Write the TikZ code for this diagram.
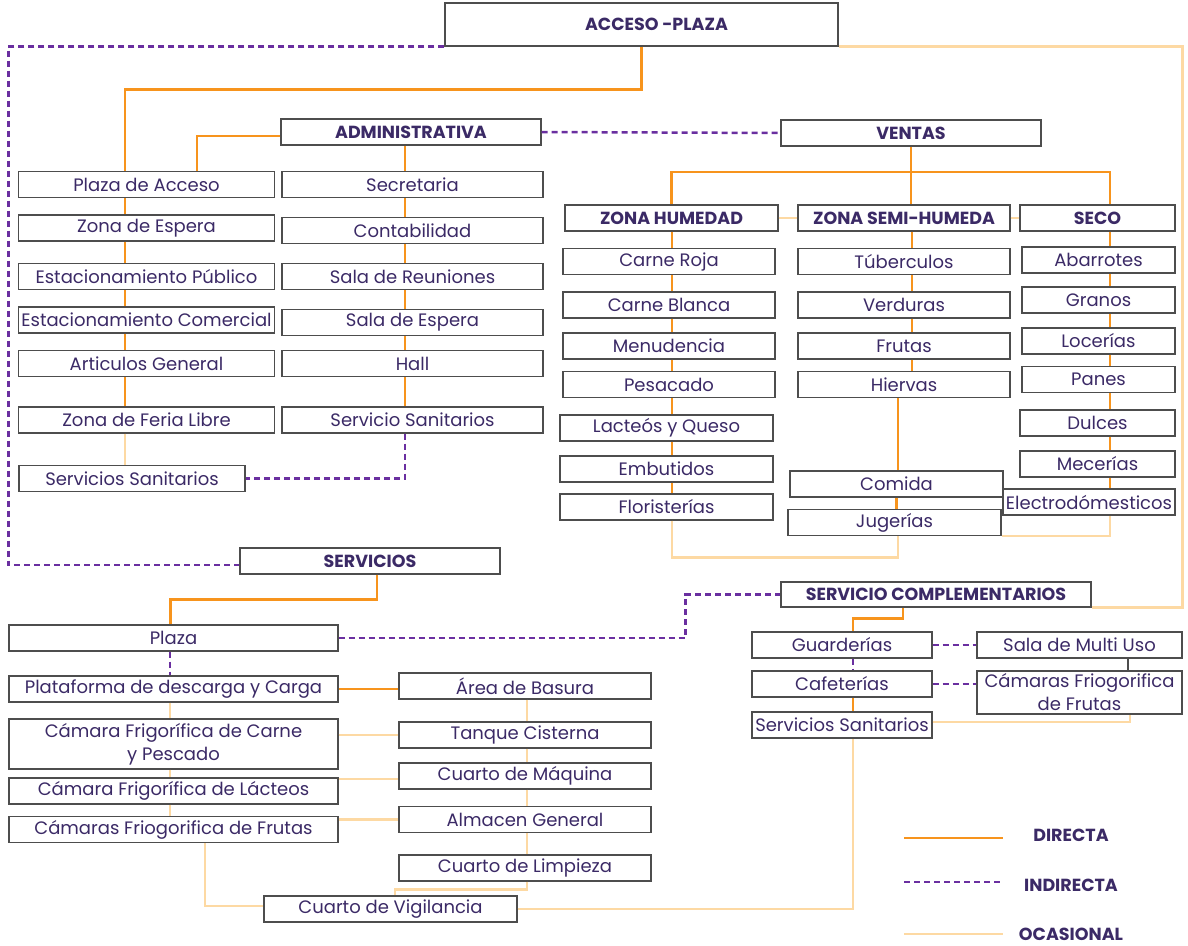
\documentclass[tikz,border=0pt]{standalone}
\usepackage{fontspec}
\setmainfont{Poppins}
\definecolor{textcol}{HTML}{3B2A66}
\definecolor{linecol}{HTML}{4D4D4D}
\definecolor{dircol}{HTML}{F7941D}
\definecolor{indcol}{HTML}{6A2FA0}
\definecolor{ocacol}{HTML}{FDD9A3}

\begin{document}
\begin{tikzpicture}[x=1pt,y=-1pt,
  box/.style={draw=linecol,line width=1.2pt,fill=white,inner sep=0pt,minimum height=26pt,
    text=textcol,font=\fontsize{18}{23}\selectfont,align=center},
  head/.style={box,font=\fontsize{17.5}{20}\selectfont\bfseries},
  directa/.style={draw=dircol,line width=2.6pt},
  indirecta/.style={draw=indcol,line width=2.5pt,dash pattern=on 6pt off 4pt},
  ocasional/.style={draw=ocacol,line width=2.6pt}]
\useasboundingbox (0,0) rectangle (1188,945);

% axes of the columns
\coordinate (lx) at (125,0);
\coordinate (ax) at (405,0);
\coordinate (hx) at (672,0);
\coordinate (sx) at (912,0);
\coordinate (kx) at (1110,0);
\coordinate (bx) at (170,0);
\coordinate (rx) at (527,0);
\coordinate (cx) at (853,0);

\node[head,minimum width=393pt,minimum height=43pt] (acc) at (641.5,24.5) {\hspace*{30pt}ACCESO -PLAZA};
\node[head,minimum width=260pt] (adm) at (411,132) {ADMINISTRATIVA};
\node[head,minimum width=260pt] (ven) at (911,133) {VENTAS};
\node[head,minimum width=213pt] (zh) at (671.5,218) {ZONA HUMEDAD};
\node[head,minimum width=212pt] (zsh) at (904,218) {ZONA SEMI-HUMEDA};
\node[head,minimum width=155pt] (seco) at (1097.5,218) {SECO};
\node[head,minimum width=260pt] (serv) at (370,561) {SERVICIOS};
\node[head,minimum width=310pt,minimum height=25pt] (comp) at (936,594.5) {SERVICIO COMPLEMENTARIOS};

\foreach \name/\y/\txt in {plazaacc/184.5/Plaza de Acceso, espera/228/Zona de Espera,
  estpub/276.5/Estacionamiento Público, estcom/320/Estacionamiento Comercial,
  artic/363.5/Articulos General, feria/420/Zona de Feria Libre}
  \node[box,minimum width=256pt] (\name) at (146.5,\y) {\txt};
\node[box,minimum width=226pt] (sanl) at (132,478.5) {Servicios Sanitarios};

\foreach \name/\y/\txt in {secr/184.5/Secretaria, conta/230.5/Contabilidad,
  reun/276.5/Sala de Reuniones, salaesp/322.5/Sala de Espera,
  hall/363.5/Hall, sana/420/Servicio Sanitarios}
  \node[box,minimum width=261pt] (\name) at (412.5,\y) {\txt};

\foreach \name/\y/\txt in {roja/261.5/Carne Roja, blanca/305/Carne Blanca,
  menud/346/Menudencia, pesc/384.5/Pesacado}
  \node[box,minimum width=212pt] (\name) at (669,\y) {\txt};
\foreach \name/\y/\txt in {lact/428/Lacteós y Queso, embut/469/Embutidos,
  flor/507/Floristerías}
  \node[box,minimum width=213pt] (\name) at (666.5,\y) {\txt};

\foreach \name/\y/\txt in {tub/261.5/Túberculos, verd/305/Verduras,
  frut/346/Frutas, hierv/384.5/Hiervas}
  \node[box,minimum width=212pt] (\name) at (904,\y) {\txt};
\node[box,minimum width=213pt] (comida) at (896.5,484) {Comida};
\node[box,minimum width=213pt] (jug) at (894.5,522.5) {Jugerías};

\foreach \name/\y/\txt in {abarr/260/Abarrotes, granos/300/Granos,
  locer/341/Locerías, panes/379.5/Panes}
  \node[box,minimum width=153pt] (\name) at (1098.5,\y) {\txt};
\foreach \name/\y/\txt in {dulces/423/Dulces, mecer/464/Mecerías}
  \node[box,minimum width=155pt] (\name) at (1097.5,\y) {\txt};
\node[box,minimum width=172pt] (electro) at (1089,502) {Electrodómesticos};

\foreach \name/\y/\txt in {plz/638/Plaza, plat/689/Plataforma de descarga y Carga,
  camlact/791/Cámara Frigorífica de Lácteos, camfrut/829.5/Cámaras Friogorifica de Frutas}
  \node[box,minimum width=329pt] (\name) at (173.5,\y) {\txt};
\node[box,minimum width=329pt,minimum height=50pt] (camcarne) at (173.5,744)
  {Cámara Frigorífica de Carne\\y Pescado};

\foreach \name/\y/\txt in {basura/686/Área de Basura, tanque/735/Tanque Cisterna,
  maquina/776/Cuarto de Máquina, almacen/819.5/Almacen General,
  limpieza/868/Cuarto de Limpieza}
  \node[box,minimum width=252pt] (\name) at (525,\y) {\txt};
\node[box,minimum width=253pt] (vigil) at (390.5,909) {Cuarto de Vigilancia};

\foreach \name/\y/\txt in {guard/645/Guarderías, cafe/684/Cafeterías,
  sanc/725/Servicios Sanitarios}
  \node[box,minimum width=180pt] (\name) at (842,\y) {\txt};
\node[box,minimum width=205pt] (multi) at (1079.5,645) {Sala de Multi Uso};
\node[box,minimum width=205pt,minimum height=43pt] (camfc) at (1079.5,692.5)
  {Cámaras Friogorifica\\de Frutas};

% acceso - plaza
\draw[directa] (acc.south) -- ++(0,43) -| (plazaacc.north -| lx);
\draw[indirecta] (acc.south west) -| ([xshift=-231pt,yshift=-4pt]serv.west) -- ([yshift=-4pt]serv.west);
\draw[ocasional] (acc.south east) -| ([xshift=91pt]comp.south east) -- (comp.south east);

% administrativa
\draw[directa] ([yshift=-4pt]adm.west) -| ([xshift=50.5pt]plazaacc.north);
\draw[indirecta] (adm.east) -- (ven.west);
\foreach \a/\b in {plazaacc/espera,espera/estpub,estpub/estcom,estcom/artic,artic/feria}
  \draw[directa] (\a.south -| lx) -- (\b.north -| lx);
\draw[ocasional] (feria.south -| lx) -- (sanl.north -| lx);
\foreach \a/\b in {adm/secr,secr/conta,conta/reun,reun/salaesp,salaesp/hall,hall/sana}
  \draw[directa] (\a.south -| ax) -- (\b.north -| ax);
\draw[indirecta] (sana.south -| ax) |- (sanl.east);

% ventas
\coordinate (vb) at (ven.south |- 0,172);
\draw[directa] (ven.south) -- (vb);
\draw[directa] (zh.north) |- (vb) -| ([xshift=12.5pt]seco.north);
\draw[directa] (vb) -- (vb |- zsh.north);
\draw[ocasional] (zh.east) -- (zsh.west);
\draw[ocasional] (zsh.east) -- (seco.west);
\foreach \a/\b in {zh/roja,roja/blanca,blanca/menud,menud/pesc,pesc/lact,lact/embut,embut/flor}
  \draw[directa] (\a.south -| hx) -- (\b.north -| hx);
\foreach \a/\b in {zsh/tub,tub/verd,verd/frut,frut/hierv}
  \draw[directa] (\a.south -| sx) -- (\b.north -| sx);
\draw[directa] ([xshift=1.5pt]comida.north |- hierv.south) -- ([xshift=1.5pt]comida.north);
\draw[directa] (comida.south) -- (comida.south |- jug.north);
\foreach \a/\b in {seco/abarr,abarr/granos,granos/locer,locer/panes,panes/dulces,dulces/mecer,mecer/electro}
  \draw[directa] (\a.south -| kx) -- (\b.north -| kx);
\draw[ocasional] (flor.south -| hx) -- ++(0,37) -| ([xshift=3.5pt]jug.south);
\draw[ocasional] (jug.south east) -| (electro.south -| kx);

% servicios
\draw[directa] ([xshift=7pt]serv.south) -- ++(0,25) -| ([xshift=-3pt]plz.north);
\draw[indirecta] (plz.east) -| ([xshift=-95pt]comp.west) -- (comp.west);
\draw[indirecta] (plz.south -| bx) -- (plat.north -| bx);
\foreach \a/\b in {plat/camcarne,camcarne/camlact,camlact/camfrut}
  \draw[ocasional] (\a.south -| bx) -- (\b.north -| bx);
\draw[directa] (plat.east) -- (plat.east -| basura.west);
\draw[ocasional] (tanque.west -| camcarne.east) -- (tanque.west);
\draw[ocasional] ([yshift=-3pt]maquina.west -| camlact.east) -- ([yshift=-3pt]maquina.west);
\draw[ocasional] (almacen.west -| camfrut.east) -- (almacen.west);
\foreach \a/\b in {basura/tanque,tanque/maquina,maquina/almacen,almacen/limpieza}
  \draw[ocasional] (\a.south -| rx) -- (\b.north -| rx);
\draw[ocasional] (limpieza.south -| rx) -- ++(0,8) -| ([xshift=4.5pt]vigil.north);
\draw[ocasional] ([xshift=31.5pt]camfrut.south) |- ([yshift=3pt]vigil.west);
\draw[ocasional] (vigil.east) -| (sanc.south -| cx);

% complementarios
\draw[directa] ([xshift=-33pt]comp.south) -- ++(0,11) -| (guard.north -| cx);
\draw[indirecta] (guard.south -| cx) -- (cafe.north -| cx);
\draw[directa] (cafe.south -| cx) -- (sanc.north -| cx);
\draw[indirecta] (guard.east) -- (multi.west);
\draw[indirecta] (cafe.east) -- (camfc.west |- cafe.east);
\draw[linecol,line width=1.2pt] ([xshift=48.5pt]multi.south) -- ([xshift=48.5pt]camfc.north);
\draw[ocasional] ([yshift=3pt]sanc.east) -| ([xshift=50.5pt]camfc.south);

% leyenda
\foreach \st/\txt/\y/\ty in {directa/DIRECTA/838/835, indirecta/INDIRECTA/882/885, ocasional/OCASIONAL/934/934}{
  \coordinate (\txt a) at (904,\y);
  \coordinate (\txt b) at (1003,\y);
  \node[text=textcol,font=\fontsize{17.5}{20}\selectfont\bfseries] (\txt) at (1071,\ty) {\txt};
  \draw[\st] (\txt a) -- (\txt b);
  }
\end{tikzpicture}
\end{document}
